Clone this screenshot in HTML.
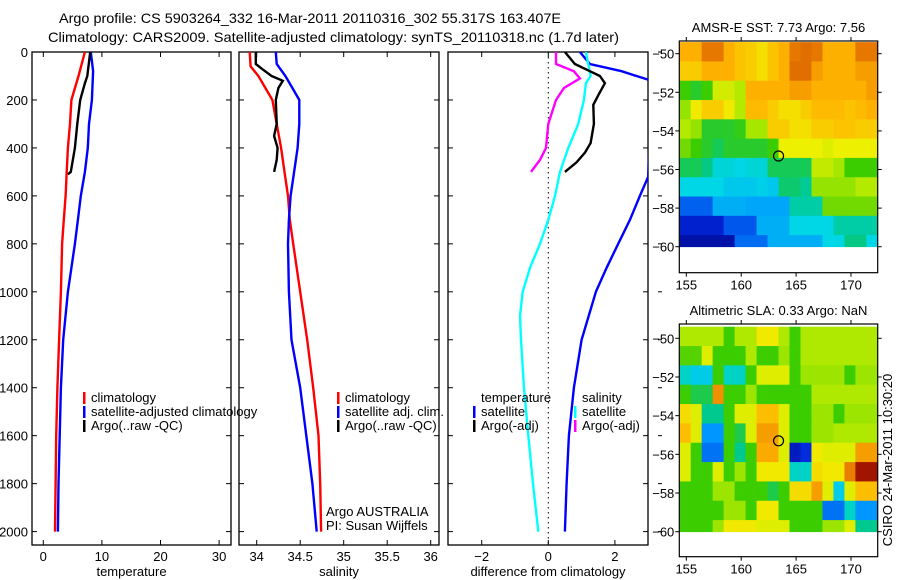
<!DOCTYPE html>
<html><head><meta charset="utf-8"><style>
html,body{margin:0;padding:0;background:#fff;}
svg{display:block;font-family:"Liberation Sans",sans-serif;}
</style></head><body>
<svg id="fig" width="900" height="580" viewBox="0 0 900 580" xmlns="http://www.w3.org/2000/svg">
<text x="59" y="23" font-size="14" textLength="502" lengthAdjust="spacingAndGlyphs">Argo profile: CS 5903264_332 16-Mar-2011 20110316_302 55.317S 163.407E</text>
<text x="48" y="42" font-size="14" textLength="571" lengthAdjust="spacingAndGlyphs">Climatology: CARS2009. Satellite-adjusted climatology: synTS_20110318.nc (1.7d later)</text>
<g id="plots"></g>
</svg>
<script>
// ---- profile data (depth in m) ----
const tClimDepth=[0,100,200,300,400,500,600,700,800,1000,1200,1400,1600,1800,2000];
const tClim=[7.1,6.0,4.8,4.55,4.2,4.0,3.8,3.5,3.2,3.0,2.7,2.4,2.2,2.1,2.0];
const tSatDepth=[0,80,200,300,400,500,600,700,800,1000,1200,1400,1600,1800,2000];
const tSat=[8.1,8.5,8.3,7.8,7.6,7.1,6.4,5.9,5.4,4.2,3.4,3.0,2.8,2.6,2.5];
const tArgoDepth=[0,100,130,200,300,400,500,510];
const tArgo=[8.0,7.5,7.1,6.3,5.8,5.4,4.7,4.2];
const sClimDepth=[0,60,100,150,200,300,400,500,600,700,800,1000,1200,1400,1600,1800,2000];
const sClim=[33.92,33.93,34.02,34.1,34.18,34.23,34.28,34.32,34.36,34.38,34.42,34.5,34.58,34.65,34.71,34.73,34.74];
const sSatDepth=[0,50,100,150,200,300,400,500,600,700,800,1000,1200,1400,1600,1800,2000];
const sSat=[34.22,34.23,34.33,34.41,34.49,34.49,34.47,34.43,34.39,34.37,34.36,34.37,34.4,34.5,34.57,34.64,34.69];
const sArgoDepth=[0,50,70,100,120,150,200,300,350,400,450,500];
const sArgo=[33.99,33.99,34.06,34.17,34.3,34.25,34.22,34.23,34.2,34.24,34.23,34.2];
const dTSatDepth=[0,50,80,120,520,600,700,800,900,1000,1200,1400,1600,1800,2000];
const dTSat=[0.95,1.25,2.2,3.1,3.0,2.75,2.45,2.1,1.75,1.43,1.0,0.77,0.62,0.55,0.5];
const dSSatDepth=[0,100,130,200,300,400,500,600,700,800,900,1000,1100,1200,1400,1600,1800,2000];
const dSSat=[1.13,1.27,1.13,1.07,0.9,0.6,0.35,0.2,0,-0.25,-0.55,-0.77,-0.85,-0.82,-0.73,-0.6,-0.46,-0.3];
const dTArgoDepth=[0,50,80,100,130,180,220,300,380,420,460,500];
const dTArgo=[0.5,0.8,1.25,1.55,1.7,1.5,1.35,1.37,1.27,1.1,0.85,0.5];
const dSArgoDepth=[0,50,80,110,150,200,300,400,450,500];
const dSArgo=[0.23,0.23,0.77,0.95,0.47,0.23,0,-0.07,-0.25,-0.52];
const depthTicks=[0,200,400,600,800,1000,1200,1400,1600,1800,2000];
const tTicks=[0,10,20,30];
const sTicks=[34,34.5,35,35.5,36];
const dTicks=[-2,0,2];

// ---- map data (rows top->bottom lat, cols lon 154.4..172.4 step 1) ----
const mapLonStart=154.4;
const mapLatEdges=[-49.4,-50.4,-51.4,-52.4,-53.4,-54.4,-55.4,-56.4,-57.4,-58.4,-59.4,-60.0];
const sstGrid=[
[8.8,8.8,9.4,9.4,8.8,8.6,8.5,8.3,8.6,8.8,9.4,9.5,9.4,8.8,8.8,8.8,9.4,9.4],
[8.5,8.5,8.8,8.8,8.8,8.6,8.5,8.3,8.6,8.8,9.5,9.5,9.0,8.8,8.8,8.8,9.0,9.0],
[7.0,6.8,7.0,7.9,7.9,7.7,8.8,8.8,8.8,8.8,9.0,9.0,8.8,8.8,8.8,8.8,8.8,9.0],
[7.5,8.2,8.5,8.5,8.2,7.7,8.7,8.7,8.5,8.3,8.3,8.5,8.7,8.7,8.7,8.6,8.7,8.8],
[7.7,7.5,6.8,6.8,6.8,6.9,7.6,7.6,8.5,8.5,8.3,8.3,8.5,8.5,8.6,8.6,8.5,8.5],
[7.3,7.0,6.8,6.6,6.8,6.8,6.8,6.8,7.0,8.1,8.1,8.1,8.1,8.0,8.1,8.1,8.1,8.1],
[6.6,6.6,6.4,5.9,5.9,5.8,5.9,5.9,6.6,6.6,6.6,6.6,7.8,7.8,7.6,7.0,7.0,7.0],
[5.8,5.8,5.8,5.8,5.6,5.6,5.6,5.7,5.6,6.5,6.5,6.3,7.5,7.5,7.5,7.5,7.7,7.7],
[4.5,4.5,4.5,5.3,5.3,5.3,5.2,5.2,5.2,5.2,6.2,6.2,6.2,7.3,7.3,7.3,7.3,7.3],
[3.8,3.8,3.8,3.8,4.4,4.4,4.4,5.3,5.3,5.3,5.8,5.8,5.8,5.8,6.2,6.2,6.2,6.2],
[3.4,3.4,3.4,3.4,3.4,4.6,4.6,4.6,5.3,5.3,5.3,5.3,5.3,5.8,5.8,6.4,6.4,5.8]];
const slaGrid=[
[0.1,0.1,0.1,0.1,0.0,0.1,0.1,0.18,0.18,0.1,0.0,0.1,0.1,0.1,0.1,0.1,0.1,0.1],
[0.02,0.02,0.15,0.0,0.0,0.0,0.1,0.0,0.0,0.08,0.0,0.1,0.1,0.1,0.1,0.1,0.1,0.1],
[-0.15,-0.2,-0.2,0.0,-0.15,-0.15,0.0,0.15,0.15,0.15,0.0,0.08,0.08,0.08,0.08,0.0,0.08,0.08],
[0.0,-0.05,-0.05,0.32,0.0,0.0,0.08,0.0,0.0,0.0,0.0,0.0,0.1,0.1,0.1,0.1,0.1,0.1],
[0.2,0.15,-0.1,-0.1,0.0,0.15,0.15,0.25,0.25,0.15,0.0,0.0,0.08,0.08,0.0,0.08,0.08,0.08],
[0.25,0.15,-0.3,-0.3,0.0,-0.05,0.15,0.3,0.3,0.15,0.0,0.0,0.08,0.08,0.1,0.1,0.1,0.1],
[0.15,0.0,-0.35,-0.35,0.0,-0.1,0.0,0.28,0.28,0.15,-0.5,-0.45,0.18,0.15,0.15,0.15,0.3,0.3],
[0.15,0.0,0.0,0.15,0.0,0.08,0.0,0.18,0.18,0.18,-0.15,-0.15,0.2,0.18,0.18,0.35,0.55,0.55],
[0.0,0.0,0.0,0.08,0.08,0.0,0.0,0.0,-0.05,0.0,0.2,0.2,0.3,0.15,-0.2,0.15,0.25,0.25],
[0.0,0.0,0.0,0.0,0.08,0.08,0.0,0.18,0.18,0.0,0.0,0.0,0.0,-0.35,-0.35,-0.15,-0.3,-0.3],
[0.0,0.0,0.0,0.08,0.18,0.18,0.18,0.15,0.15,0.15,0.0,0.0,0.0,0.08,0.08,0.15,-0.1,-0.1]];
const mapLonTicks=[155,160,165,170];
const mapLatTicks=[-50,-52,-54,-56,-58,-60];
const argoLon=163.4, argoLat=-55.3;

const NS="http://www.w3.org/2000/svg";
const G=document.getElementById('plots');
function mk(tag,attrs,parent){const e=document.createElementNS(NS,tag);for(const k in attrs)e.setAttribute(k,attrs[k]);(parent||G).appendChild(e);return e;}

const Y0=52,YK=0.2398,PB=545;
const yD=d=>Y0+d*YK;
const panels=[
 {name:'temperature-panel',x0:32,x1:231,xs:v=>43.3+v*5.86,ticks:tTicks,label:'temperature',fmt:v=>String(v)},
 {name:'salinity-panel',x0:239,x1:439,xs:v=>256.7+(v-34)*87,ticks:sTicks,label:'salinity',fmt:v=>String(v)},
 {name:'difference-panel',x0:448,x1:648,xs:v=>548.3+v*33.3,ticks:dTicks,label:'difference from climatology',fmt:v=>v<0?'\u2212'+(-v):String(v)}
];
panels.forEach((p,i)=>{
  const g=mk('g',{});
  
  
  const clipId='clip'+i;
  const cp=mk('clipPath',{id:clipId},g);mk('rect',{x:p.x0,y:Y0,width:p.x1-p.x0,height:PB-Y0},cp);
  const fr=mk('rect',{x:p.x0,y:Y0,width:p.x1-p.x0,height:PB-Y0,fill:'none',stroke:'#000','stroke-width':1.3},g);
  
  
  p.ticks.forEach(v=>{
    const x=p.xs(v);
    mk('line',{x1:x,x2:x,y1:Y0,y2:Y0+5,stroke:'#000'},g);
    mk('line',{x1:x,x2:x,y1:PB,y2:PB-5,stroke:'#000'},g);
    const t=mk('text',{x:x,y:561,'font-size':13,'text-anchor':'middle'},g);t.textContent=p.fmt(v);
    
    
  });
  depthTicks.forEach(d=>{
    const y=yD(d);
    mk('line',{x1:p.x0,x2:p.x0+5,y1:y,y2:y,stroke:'#000'},g);
    mk('line',{x1:p.x1,x2:p.x1-5,y1:y,y2:y,stroke:'#000'},g);
    if(i===2)mk('line',{x1:p.x1+10,x2:p.x1+14,y1:y,y2:y,stroke:'#000'},g);
    if(i===0){const t=mk('text',{x:28,y:y+5,'font-size':13,'text-anchor':'end'},g);t.textContent=d;
      
      }
  });
  const xl=mk('text',{x:(p.x0+p.x1)/2,y:576,'font-size':13,'text-anchor':'middle'},g);xl.textContent=p.label;
  
  
  p.g=g;p.clip=clipId;
});
{const x=panels[2].xs(0);const l=mk('line',{x1:x,x2:x,y1:Y0,y2:PB,stroke:'#000','stroke-dasharray':'1.5,3.5'},panels[2].g);
 }

function series(p,depths,vals,color,name){
  const pts=depths.map((d,k)=>p.xs(vals[k]).toFixed(1)+','+yD(d).toFixed(1)).join(' ');
  const l=mk('polyline',{points:pts,fill:'none',stroke:color,'stroke-width':2.4,'clip-path':'url(#'+p.clip+')'},p.g);
  
  
}
series(panels[0],tClimDepth,tClim,'#f00','temperature-climatology-line');
series(panels[0],tSatDepth,tSat,'#00f','temperature-satellite-line');
series(panels[0],tArgoDepth,tArgo,'#000','temperature-argo-line');
series(panels[1],sClimDepth,sClim,'#f00','salinity-climatology-line');
series(panels[1],sSatDepth,sSat,'#00f','salinity-satellite-line');
series(panels[1],sArgoDepth,sArgo,'#000','salinity-argo-line');
series(panels[2],dTSatDepth,dTSat,'#00f','temp-diff-satellite-line');
series(panels[2],dSSatDepth,dSSat,'#0ff','sal-diff-satellite-line');
series(panels[2],dTArgoDepth,dTArgo,'#000','temp-diff-argo-line');
series(panels[2],dSArgoDepth,dSArgo,'#f0f','sal-diff-argo-line');

function legend(g,x,y,color,label){
  const e=mk('g',{},g);
  
  
  if(color)mk('rect',{x:x,y:y-10,width:2.5,height:12,fill:color},e);
  const t=mk('text',{x:x+8,y:y,'font-size':13},e);t.textContent=label;
}
legend(panels[0].g,83,402,'#f00','climatology');
legend(panels[0].g,83,416,'#00f','satellite-adjusted climatology');
legend(panels[0].g,83,430,'#000','Argo(..raw -QC)');
legend(panels[1].g,337,402,'#f00','climatology');
legend(panels[1].g,337,416,'#00f','satellite adj. clim.');
legend(panels[1].g,337,430,'#000','Argo(..raw -QC)');
legend(panels[2].g,473,402,null,'temperature');
legend(panels[2].g,473,416,'#00f','satellite');
legend(panels[2].g,473,430,'#000','Argo(-adj)');
legend(panels[2].g,574,402,null,'salinity');
legend(panels[2].g,574,416,'#0ff','satellite');
legend(panels[2].g,574,430,'#f0f','Argo(-adj)');
{const t=mk('text',{x:326,y:516,'font-size':13},panels[1].g);t.textContent='Argo AUSTRALIA';
 
 const t2=mk('text',{x:326,y:530,'font-size':13},panels[1].g);t2.textContent='PI: Susan Wijffels';
 }

// ---- maps ----
const cmapStops=[[0,0,0,130],[0.12,0,40,220],[0.25,0,150,255],[0.35,0,215,230],[0.42,0,200,140],[0.5,60,205,0],[0.57,160,230,0],[0.64,240,240,0],[0.72,255,180,0],[0.8,230,120,0],[0.9,190,50,0],[1,140,0,0]];
function cmap(t){t=Math.max(0,Math.min(1,t));
  for(let k=1;k<cmapStops.length;k++){const a=cmapStops[k-1],b=cmapStops[k];
    if(t<=b[0]){const f=(t-a[0])/(b[0]-a[0]);
      return 'rgb('+[1,2,3].map(c=>Math.round(a[c]+(b[c]-a[c])*f)).join(',')+')';}}
  return 'rgb(140,0,0)';}
function drawMap(name,top,bottom,lat50y,lat60y,grid,vmin,vmax,title){
  const x0=679.3,x1=877.7;
  const xL=lon=>686.3+(lon-155)*10.98;
  const yL=lat=>lat50y+(-50-lat)*(lat60y-lat50y)/10;
  const g=mk('g',{});
  
  
  grid.forEach((row,j)=>row.forEach((v,i)=>{
    const xa=xL(mapLonStart+i),xb=xL(mapLonStart+i+1);
    const ya=Math.max(top,yL(mapLatEdges[j])),yb=yL(mapLatEdges[j+1]);
    const c=mk('rect',{x:xa.toFixed(2),y:ya.toFixed(2),width:(Math.min(xb,x1)-xa+0.4).toFixed(2),height:(yb-ya+0.4).toFixed(2),fill:cmap((v-vmin)/(vmax-vmin))},g);
    
    
  }));
  const ci=mk('circle',{cx:xL(argoLon),cy:yL(argoLat),r:5,fill:'none',stroke:'#000','stroke-width':1.2},g);
  
  
  mk('rect',{x:x0,y:top,width:x1-x0,height:bottom-top,fill:'none',stroke:'#000','stroke-width':1.2},g);
  mapLonTicks.forEach(l=>{const x=xL(l);
    mk('line',{x1:x,x2:x,y1:top,y2:top-4,stroke:'#000'},g);
    mk('line',{x1:x,x2:x,y1:bottom,y2:bottom+4,stroke:'#000'},g);
    const t=mk('text',{x:x,y:bottom+17,'font-size':13,'text-anchor':'middle'},g);t.textContent=l;
    });
  mapLatTicks.forEach(l=>{const y=yL(l);
    mk('line',{x1:x0,x2:x0-4,y1:y,y2:y,stroke:'#000'},g);
    mk('line',{x1:x1,x2:x1+4,y1:y,y2:y,stroke:'#000'},g);
    const t=mk('text',{x:x0-5,y:y+5,'font-size':13,'text-anchor':'end'},g);t.textContent='\u2212'+(-l);
    });
  const tt=mk('text',{x:(x0+x1)/2,y:top-9,'font-size':13,'text-anchor':'middle'},g);tt.textContent=title;
  
}
drawMap('sst-map',41,272.7,53.7,246.7,sstGrid,3,11,'AMSR-E SST: 7.73 Argo: 7.56');
drawMap('sla-map',324,556.7,338.3,531.7,slaGrid,-0.6,0.6,'Altimetric SLA: 0.33 Argo: NaN');
{const t=mk('text',{x:0,y:0,'font-size':13,'text-anchor':'middle',transform:'translate(892,460) rotate(-90)'});
 t.textContent='CSIRO 24-Mar-2011 10:30:20';
 }
</script>
</body></html>
